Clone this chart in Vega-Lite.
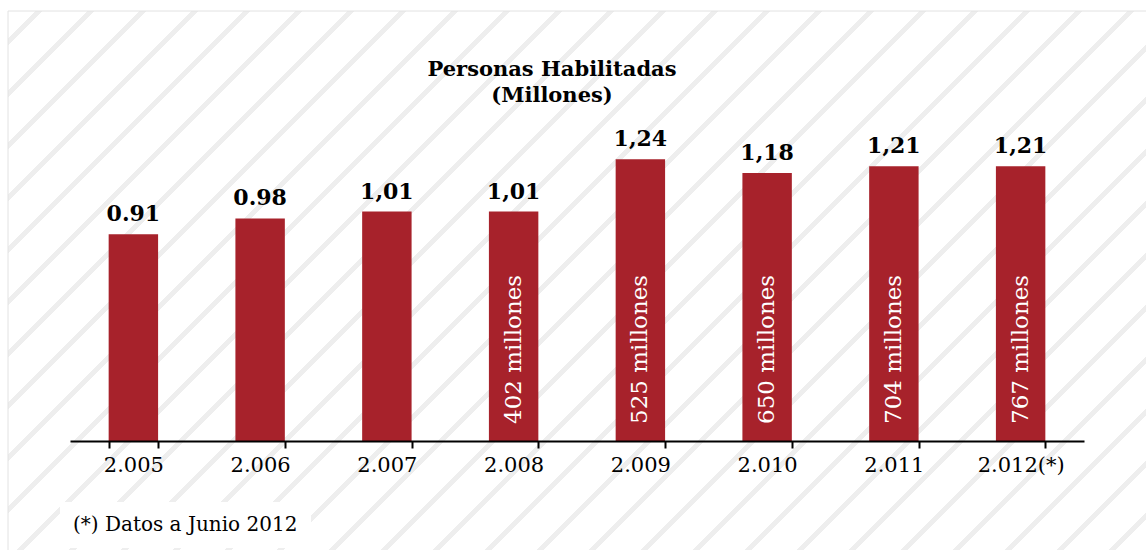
{
  "$schema": "https://vega.github.io/schema/vega-lite/v6.json",
  "width": 1140,
  "height": 545,
  "autosize": {"type": "none"},
  "padding": {"left": 8, "top": 11, "right": 0, "bottom": 0},
  "background": "#ffffff",
  "config": {"view": {"stroke": null}},
  "title": {
    "text": ["Personas Habilitadas", "(Millones)"],
    "font": "DejaVu Serif",
    "fontSize": 21,
    "fontWeight": "bold",
    "color": "#000000",
    "anchor": "middle",
    "frame": "group",
    "baseline": "top",
    "offset": -95,
    "lineHeight": 26,
    "dx": -26
  },
  "data": {
    "values": [
      {"anio": "2.005", "valor": 0.91, "etiqueta": "0.91", "millones": ""},
      {"anio": "2.006", "valor": 0.98, "etiqueta": "0.98", "millones": ""},
      {"anio": "2.007", "valor": 1.01, "etiqueta": "1,01", "millones": ""},
      {"anio": "2.008", "valor": 1.01, "etiqueta": "1,01", "millones": "402 millones"},
      {"anio": "2.009", "valor": 1.24, "etiqueta": "1,24", "millones": "525 millones"},
      {"anio": "2.010", "valor": 1.18, "etiqueta": "1,18", "millones": "650 millones"},
      {"anio": "2.011", "valor": 1.21, "etiqueta": "1,21", "millones": "704 millones"},
      {"anio": "2.012(*)", "valor": 1.21, "etiqueta": "1,21", "millones": "767 millones"}
    ]
  },
  "layer": [
    {
      "data": {"values": [{"fondo": 1}]},
      "mark": {
        "type": "rect",
        "stroke": "#e2e2e2",
        "strokeWidth": 1,
        "fill": {
          "gradient": "linear",
          "x1": 0, "y1": 0, "x2": 1.21381, "y2": 0.58029,
          "stops": [
            {"offset": 0, "color": "#ffffff"},
            {"offset": 0.01618, "color": "#ffffff"}, {"offset": 0.01618, "color": "#eeeeee"}, {"offset": 0.02029, "color": "#eeeeee"}, {"offset": 0.02029, "color": "#ffffff"},
            {"offset": 0.04676, "color": "#ffffff"}, {"offset": 0.04676, "color": "#eeeeee"}, {"offset": 0.05088, "color": "#eeeeee"}, {"offset": 0.05088, "color": "#ffffff"},
            {"offset": 0.07735, "color": "#ffffff"}, {"offset": 0.07735, "color": "#eeeeee"}, {"offset": 0.08147, "color": "#eeeeee"}, {"offset": 0.08147, "color": "#ffffff"},
            {"offset": 0.10794, "color": "#ffffff"}, {"offset": 0.10794, "color": "#eeeeee"}, {"offset": 0.11206, "color": "#eeeeee"}, {"offset": 0.11206, "color": "#ffffff"},
            {"offset": 0.13853, "color": "#ffffff"}, {"offset": 0.13853, "color": "#eeeeee"}, {"offset": 0.14265, "color": "#eeeeee"}, {"offset": 0.14265, "color": "#ffffff"},
            {"offset": 0.16912, "color": "#ffffff"}, {"offset": 0.16912, "color": "#eeeeee"}, {"offset": 0.17324, "color": "#eeeeee"}, {"offset": 0.17324, "color": "#ffffff"},
            {"offset": 0.19971, "color": "#ffffff"}, {"offset": 0.19971, "color": "#eeeeee"}, {"offset": 0.20382, "color": "#eeeeee"}, {"offset": 0.20382, "color": "#ffffff"},
            {"offset": 0.23029, "color": "#ffffff"}, {"offset": 0.23029, "color": "#eeeeee"}, {"offset": 0.23441, "color": "#eeeeee"}, {"offset": 0.23441, "color": "#ffffff"},
            {"offset": 0.26088, "color": "#ffffff"}, {"offset": 0.26088, "color": "#eeeeee"}, {"offset": 0.26500, "color": "#eeeeee"}, {"offset": 0.26500, "color": "#ffffff"},
            {"offset": 0.29147, "color": "#ffffff"}, {"offset": 0.29147, "color": "#eeeeee"}, {"offset": 0.29559, "color": "#eeeeee"}, {"offset": 0.29559, "color": "#ffffff"},
            {"offset": 0.32206, "color": "#ffffff"}, {"offset": 0.32206, "color": "#eeeeee"}, {"offset": 0.32618, "color": "#eeeeee"}, {"offset": 0.32618, "color": "#ffffff"},
            {"offset": 0.35265, "color": "#ffffff"}, {"offset": 0.35265, "color": "#eeeeee"}, {"offset": 0.35676, "color": "#eeeeee"}, {"offset": 0.35676, "color": "#ffffff"},
            {"offset": 0.38324, "color": "#ffffff"}, {"offset": 0.38324, "color": "#eeeeee"}, {"offset": 0.38735, "color": "#eeeeee"}, {"offset": 0.38735, "color": "#ffffff"},
            {"offset": 0.41382, "color": "#ffffff"}, {"offset": 0.41382, "color": "#eeeeee"}, {"offset": 0.41794, "color": "#eeeeee"}, {"offset": 0.41794, "color": "#ffffff"},
            {"offset": 0.44441, "color": "#ffffff"}, {"offset": 0.44441, "color": "#eeeeee"}, {"offset": 0.44853, "color": "#eeeeee"}, {"offset": 0.44853, "color": "#ffffff"},
            {"offset": 0.47500, "color": "#ffffff"}, {"offset": 0.47500, "color": "#eeeeee"}, {"offset": 0.47912, "color": "#eeeeee"}, {"offset": 0.47912, "color": "#ffffff"},
            {"offset": 0.50559, "color": "#ffffff"}, {"offset": 0.50559, "color": "#eeeeee"}, {"offset": 0.50971, "color": "#eeeeee"}, {"offset": 0.50971, "color": "#ffffff"},
            {"offset": 0.53618, "color": "#ffffff"}, {"offset": 0.53618, "color": "#eeeeee"}, {"offset": 0.54029, "color": "#eeeeee"}, {"offset": 0.54029, "color": "#ffffff"},
            {"offset": 0.56676, "color": "#ffffff"}, {"offset": 0.56676, "color": "#eeeeee"}, {"offset": 0.57088, "color": "#eeeeee"}, {"offset": 0.57088, "color": "#ffffff"},
            {"offset": 0.59735, "color": "#ffffff"}, {"offset": 0.59735, "color": "#eeeeee"}, {"offset": 0.60147, "color": "#eeeeee"}, {"offset": 0.60147, "color": "#ffffff"},
            {"offset": 0.62794, "color": "#ffffff"}, {"offset": 0.62794, "color": "#eeeeee"}, {"offset": 0.63206, "color": "#eeeeee"}, {"offset": 0.63206, "color": "#ffffff"},
            {"offset": 0.65853, "color": "#ffffff"}, {"offset": 0.65853, "color": "#eeeeee"}, {"offset": 0.66265, "color": "#eeeeee"}, {"offset": 0.66265, "color": "#ffffff"},
            {"offset": 0.68912, "color": "#ffffff"}, {"offset": 0.68912, "color": "#eeeeee"}, {"offset": 0.69324, "color": "#eeeeee"}, {"offset": 0.69324, "color": "#ffffff"},
            {"offset": 0.71971, "color": "#ffffff"}, {"offset": 0.71971, "color": "#eeeeee"}, {"offset": 0.72382, "color": "#eeeeee"}, {"offset": 0.72382, "color": "#ffffff"},
            {"offset": 0.75029, "color": "#ffffff"}, {"offset": 0.75029, "color": "#eeeeee"}, {"offset": 0.75441, "color": "#eeeeee"}, {"offset": 0.75441, "color": "#ffffff"},
            {"offset": 0.78088, "color": "#ffffff"}, {"offset": 0.78088, "color": "#eeeeee"}, {"offset": 0.78500, "color": "#eeeeee"}, {"offset": 0.78500, "color": "#ffffff"},
            {"offset": 0.81147, "color": "#ffffff"}, {"offset": 0.81147, "color": "#eeeeee"}, {"offset": 0.81559, "color": "#eeeeee"}, {"offset": 0.81559, "color": "#ffffff"},
            {"offset": 0.84206, "color": "#ffffff"}, {"offset": 0.84206, "color": "#eeeeee"}, {"offset": 0.84618, "color": "#eeeeee"}, {"offset": 0.84618, "color": "#ffffff"},
            {"offset": 0.87265, "color": "#ffffff"}, {"offset": 0.87265, "color": "#eeeeee"}, {"offset": 0.87676, "color": "#eeeeee"}, {"offset": 0.87676, "color": "#ffffff"},
            {"offset": 0.90324, "color": "#ffffff"}, {"offset": 0.90324, "color": "#eeeeee"}, {"offset": 0.90735, "color": "#eeeeee"}, {"offset": 0.90735, "color": "#ffffff"},
            {"offset": 0.93382, "color": "#ffffff"}, {"offset": 0.93382, "color": "#eeeeee"}, {"offset": 0.93794, "color": "#eeeeee"}, {"offset": 0.93794, "color": "#ffffff"},
            {"offset": 0.96441, "color": "#ffffff"}, {"offset": 0.96441, "color": "#eeeeee"}, {"offset": 0.96853, "color": "#eeeeee"}, {"offset": 0.96853, "color": "#ffffff"},
            {"offset": 0.99500, "color": "#ffffff"}, {"offset": 0.99500, "color": "#eeeeee"}, {"offset": 0.99912, "color": "#eeeeee"}, {"offset": 0.99912, "color": "#ffffff"},
            {"offset": 1, "color": "#ffffff"}
          ]
        }
      },
      "encoding": {
        "x": {"value": 0},
        "x2": {"value": "width"},
        "y": {"value": 0},
        "y2": {"value": "height"}
      }
    },
    {
      "mark": {"type": "bar"},
      "encoding": {
        "x": {
          "field": "anio", "type": "nominal", "sort": null,
          "scale": {"type": "band", "range": [62, 1076], "paddingInner": 0.61, "paddingOuter": 0.305},
          "axis": {
            "title": null, "labelAngle": 0, "labelFont": "DejaVu Serif", "labelFontSize": 21,
            "labelColor": "#000000", "domainColor": "#000000", "domainWidth": 2,
            "tickColor": "#000000", "tickWidth": 2, "tickSize": 7, "tickBand": "extent",
            "labelPadding": 6, "offset": -115, "zindex": 1
          }
        },
        "y": {
          "field": "valor", "type": "quantitative",
          "scale": {"domain": [0, 1.4], "range": [430, 112]},
          "axis": null
        },
        "color": {
          "datum": "(*) Datos a Junio 2012",
          "type": "nominal",
          "scale": {"range": ["#a7222b"]},
          "legend": {
            "title": null, "orient": "none", "legendX": 52, "legendY": 491,
            "fillColor": "#ffffff", "padding": 13, "symbolSize": 0, "symbolOpacity": 0,
            "symbolStrokeWidth": 0, "labelOffset": -20, "labelFont": "DejaVu Serif",
            "labelFontSize": 20, "labelColor": "#000000", "labelLimit": 500,
            "zindex": 1
          }
        }
      }
    },
    {
      "mark": {"type": "text", "font": "DejaVu Serif", "fontSize": 22, "fontWeight": "bold", "color": "#000000", "baseline": "alphabetic", "dy": -13},
      "encoding": {
        "x": {"field": "anio", "type": "nominal", "sort": null},
        "y": {"field": "valor", "type": "quantitative"},
        "text": {"field": "etiqueta"}
      }
    },
    {
      "transform": [{"filter": "datum.millones != ''"}],
      "mark": {"type": "text", "font": "DejaVu Serif", "fontSize": 23, "color": "#ffffff", "angle": 270, "align": "left", "baseline": "middle", "dx": 17},
      "encoding": {
        "x": {"field": "anio", "type": "nominal", "sort": null},
        "y": {"datum": 0, "type": "quantitative"},
        "text": {"field": "millones"}
      }
    }
  ]
}
